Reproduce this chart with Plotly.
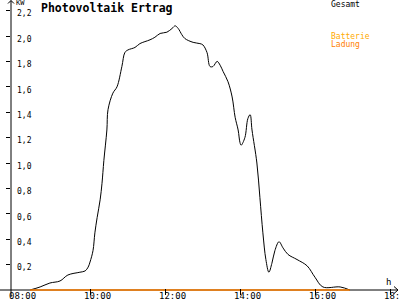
import plotly.graph_objects as go

# ---- data (hours, kW) ----
hours = [8.40, 8.67, 8.93, 9.20, 9.41, 9.73, 9.87, 9.95, 10.00, 10.08, 10.13, 10.19,
         10.27, 10.32, 10.37, 10.45, 10.48, 10.61, 10.72, 10.85, 10.93, 11.01, 11.20,
         11.33, 11.60, 11.73, 11.87, 12.05, 12.19, 12.27, 12.35, 12.45, 12.53, 12.75,
         12.93, 13.01, 13.12, 13.20, 13.28, 13.39, 13.47, 13.55, 13.68, 13.79, 13.87,
         13.95, 14.00, 14.03, 14.13, 14.21, 14.27, 14.32, 14.45, 14.53, 14.61, 14.69,
         14.77, 14.85, 14.93, 15.04, 15.15, 15.28, 15.52, 15.79, 16.00, 16.21, 16.67, 16.93]
gesamt = [0.00, 0.024, 0.055, 0.071, 0.118, 0.14, 0.15, 0.18, 0.22, 0.31, 0.45, 0.57,
          0.71, 0.84, 1.02, 1.26, 1.42, 1.55, 1.60, 1.76, 1.87, 1.89, 1.91,
          1.94, 1.97, 1.99, 2.02, 2.03, 2.06, 2.08, 2.06, 2.01, 1.98, 1.95,
          1.94, 1.93, 1.87, 1.76, 1.76, 1.80, 1.77, 1.72, 1.64, 1.52, 1.36,
          1.26, 1.16, 1.14, 1.20, 1.35, 1.38, 1.26, 1.00, 0.73, 0.45, 0.24,
          0.14, 0.21, 0.31, 0.38, 0.33, 0.28, 0.24, 0.19, 0.10, 0.024, 0.024, 0.00]
ladung_hours = [8.40, 16.93]
ladung = [0.0, 0.0]

x_ticks = [8, 10, 12, 14, 16, 18]
x_tick_labels = ["08:00", "10:00", "12:00", "14:00", "16:00", "18:00"]
y_ticks = [0.2, 0.4, 0.6, 0.8, 1.0, 1.2, 1.4, 1.6, 1.8, 2.0, 2.2]
y_tick_labels = ["0,2", "0,4", "0,6", "0,8", "1,0", "1,2", "1,4", "1,6", "1,8", "2,0", "2,2"]

W, H = 400, 300
L, R, T, B = 11, 3, 0, 8
PW, PH = W - L - R, H - T - B
Y0 = 290          # pixel row of value 0
PX_PER_KW = 127.0
PX_PER_H = 37.5
X8 = 15           # pixel column of 08:00
MONO = "DejaVu Sans Mono"


def fx(px):
    return (px - L) / PW


def fy(py):
    return (H - B - py) / PH


fig = go.Figure()
fig.add_trace(go.Scatter(x=hours, y=gesamt, mode="lines", line=dict(color="black", width=1),
                         line_shape="spline", hoverinfo="skip", showlegend=False))
fig.add_trace(go.Scatter(x=ladung_hours, y=ladung, mode="lines",
                         line=dict(color="#FF8000", width=1.3), hoverinfo="skip",
                         showlegend=False))

shapes = [
    # x axis line extending left past y axis
    dict(type="line", xref="paper", yref="paper", x0=fx(0), x1=fx(398), y0=fy(Y0), y1=fy(Y0),
         line=dict(color="black", width=1), layer="below"),
    # x arrow
    dict(type="line", xref="paper", yref="paper", x0=fx(394), x1=fx(398), y0=fy(286.5), y1=fy(Y0),
         line=dict(color="black", width=1)),
    dict(type="line", xref="paper", yref="paper", x0=fx(394), x1=fx(398), y0=fy(293.5), y1=fy(Y0),
         line=dict(color="black", width=1)),
    # y axis line extending below x axis
    dict(type="line", xref="paper", yref="paper", x0=fx(11), x1=fx(11), y0=fy(297), y1=fy(0.5),
         line=dict(color="black", width=1)),
    # y arrow
    dict(type="line", xref="paper", yref="paper", x0=fx(8), x1=fx(11), y0=fy(3.5), y1=fy(0.5),
         line=dict(color="black", width=1)),
    dict(type="line", xref="paper", yref="paper", x0=fx(14), x1=fx(11), y0=fy(3.5), y1=fy(0.5),
         line=dict(color="black", width=1)),
]

annotations = [
    dict(text="<b>Photovoltaik Ertrag</b>", x=fx(39), y=fy(8), xanchor="left", yanchor="middle",
         font=dict(family=MONO, size=11.5, color="black")),
    dict(text="KW", x=fx(14), y=fy(3), xanchor="left", yanchor="middle",
         font=dict(family=MONO, size=7, color="black")),
    dict(text="Gesamt", x=fx(329), y=fy(5), xanchor="left", yanchor="middle",
         font=dict(family=MONO, size=8, color="black")),
    dict(text="Batterie", x=fx(329), y=fy(36.5), xanchor="left", yanchor="middle",
         font=dict(family=MONO, size=8, color="#FFAA00")),
    dict(text="Ladung", x=fx(329), y=fy(44.5), xanchor="left", yanchor="middle",
         font=dict(family=MONO, size=8, color="#FF8000")),
    dict(text="h", x=fx(384), y=fy(281.5), xanchor="left", yanchor="middle",
         font=dict(family=MONO, size=9, color="black")),
]
for a in annotations:
    a.update(xref="paper", yref="paper", showarrow=False)

# x tick labels (placed just right of each tick, as in the reference)
for v, t in zip(x_ticks, x_tick_labels):
    annotations.append(dict(text=t, x=v, xref="x", y=fy(296), yref="paper", xshift=7,
                            xanchor="center", yanchor="middle", showarrow=False,
                            font=dict(family=MONO, size=9, color="black")))

x_lo = 8 + (L - X8) / PX_PER_H
x_hi = 8 + (W - R - X8) / PX_PER_H
y_lo = -(H - B - Y0) / PX_PER_KW
y_hi = (Y0 - T) / PX_PER_KW

fig.update_layout(
    width=W, height=H,
    margin=dict(l=L, r=R, t=T, b=B, pad=0, autoexpand=False),
    paper_bgcolor="white", plot_bgcolor="white",
    shapes=shapes, annotations=annotations,
    xaxis=dict(range=[x_lo, x_hi], tickvals=x_ticks, showticklabels=False,
               ticks="outside", ticklen=6, tickcolor="black", tickwidth=1,
               anchor="free", position=fy(288),
               showgrid=False, zeroline=False, showline=False, automargin=False,
               fixedrange=True),
    yaxis=dict(range=[y_lo, y_hi], tickvals=y_ticks, ticktext=y_tick_labels,
               ticks="outside", ticklen=4, tickcolor="black", tickwidth=1,
               ticklabelposition="inside", ticklabelshift=3, ticklabelstandoff=3,
               showgrid=False, zeroline=False, showline=False,
               automargin=False,
               tickfont=dict(family=MONO, size=8, color="black"), fixedrange=True),
)

fig.write_html("out.html")
